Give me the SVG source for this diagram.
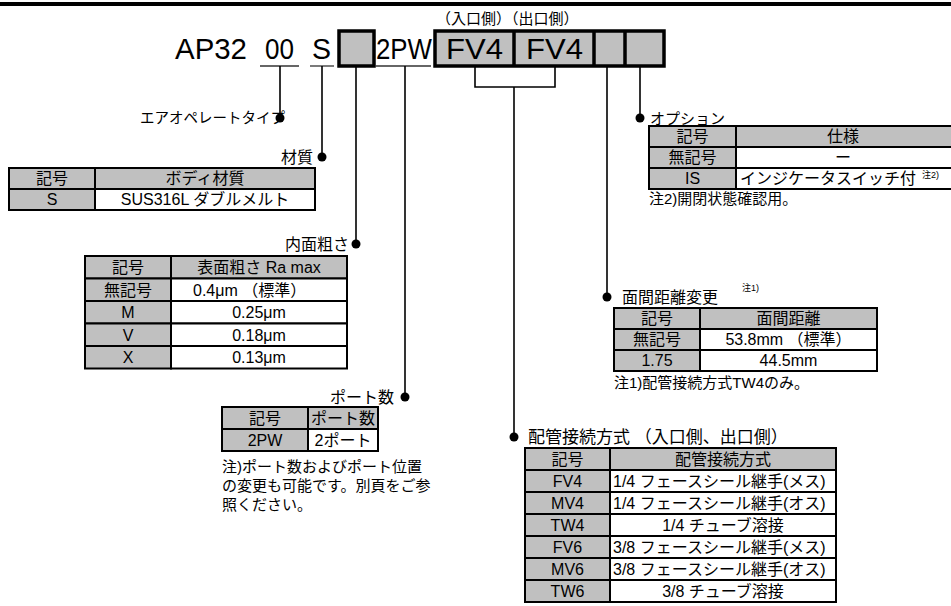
<svg xmlns="http://www.w3.org/2000/svg" width="951" height="606" viewBox="0 0 951 606">
<style>
.t{font-family:"Liberation Sans","Noto Sans CJK JP",sans-serif;font-size:16px;fill:#000}
.l{font-size:15px}
.c{text-anchor:middle}
.e{text-anchor:end}
.big{font-family:"Liberation Sans",sans-serif;font-size:29px;fill:#000}
.sup{font-family:"Liberation Sans","Noto Sans CJK JP",sans-serif;font-size:9px;fill:#000}
.g{fill:#c0c0c0;stroke:#000;stroke-width:2}
.w{fill:#fff;stroke:#000;stroke-width:2}
.hb{fill:#c0c0c0;stroke:#000;stroke-width:3.5}
.ln{stroke:#000;stroke-width:1.6;fill:none}
.ul{stroke:#333;stroke-width:1.3}
.dot{fill:#000}
</style>
<rect x="0" y="2" width="951" height="4" fill="#000"/>

<g id="code">
<text class="t" x="436" y="24" style="font-size:15px">（入口側）（出口側）</text>
<text class="big" x="175" y="58.5" textLength="72" lengthAdjust="spacingAndGlyphs">AP32</text>
<text class="big" x="265" y="58.5" textLength="29" lengthAdjust="spacingAndGlyphs">00</text>
<line class="ul" x1="260" y1="66" x2="299" y2="66"/>
<text class="big" x="312" y="58.5" textLength="19" lengthAdjust="spacingAndGlyphs">S</text>
<line class="ul" x1="310" y1="66" x2="334" y2="66"/>
<rect class="hb" x="339" y="31" width="35" height="35"/>
<text class="big" x="376" y="58.5" textLength="56" lengthAdjust="spacingAndGlyphs">2PW</text>
<line class="ul" x1="375" y1="66" x2="431" y2="66"/>
<rect class="hb" x="435" y="31" width="229" height="35"/>
<line stroke="#000" stroke-width="3.5" x1="514" y1="31" x2="514" y2="66"/>
<line stroke="#000" stroke-width="3.5" x1="594" y1="31" x2="594" y2="66"/>
<line stroke="#000" stroke-width="3.5" x1="625" y1="31" x2="625" y2="66"/>
<text class="big" x="446" y="58.5" textLength="57" lengthAdjust="spacingAndGlyphs">FV4</text>
<text class="big" x="526" y="58.5" textLength="57" lengthAdjust="spacingAndGlyphs">FV4</text>
</g>

<g id="connectors">
<line class="ln" x1="280" y1="66" x2="280" y2="118"/>
<line class="ln" x1="322" y1="66" x2="322" y2="157"/>
<line class="ln" x1="356" y1="66" x2="356" y2="244"/>
<line class="ln" x1="405" y1="66" x2="405" y2="397"/>
<polyline class="ln" points="475,66 475,87 555,87 555,66"/>
<line class="ln" x1="514" y1="87" x2="514" y2="437"/>
<line class="ln" x1="607" y1="66" x2="607" y2="297"/>
<line class="ln" x1="640" y1="66" x2="640" y2="118"/>
<circle class="dot" cx="280" cy="118" r="4.5"/>
<circle class="dot" cx="322" cy="157" r="4.5"/>
<circle class="dot" cx="356" cy="244" r="4.5"/>
<circle class="dot" cx="405" cy="397" r="4.5"/>
<circle class="dot" cx="514" cy="437" r="4.5"/>
<circle class="dot" cx="607" cy="297" r="4.5"/>
<circle class="dot" cx="640" cy="118" r="4.5"/>
</g>

<g id="air-type">
<text class="t e" x="285" y="123" style="font-size:14.5px">エアオペレートタイプ</text>
</g>

<g id="material">
<text class="t e" x="313" y="163">材質</text>
<rect class="g" x="9" y="168" width="86" height="21"/>
<rect class="g" x="95" y="168" width="220" height="21"/>
<rect class="g" x="9" y="189" width="86" height="21"/>
<rect class="w" x="95" y="189" width="220" height="21"/>
<text class="t c" x="52" y="184">記号</text>
<text class="t c" x="205" y="184">ボディ材質</text>
<text class="t c" x="52" y="205">S</text>
<text class="t c" x="205" y="205">SUS316L  ダブルメルト</text>
</g>

<g id="roughness">
<text class="t e" x="349" y="250">内面粗さ</text>
<rect class="g" x="85" y="256" width="86" height="22.5"/>
<rect class="g" x="171" y="256" width="176" height="22.5"/>
<rect class="g" x="85" y="278.5" width="86" height="22.5"/>
<rect class="w" x="171" y="278.5" width="176" height="22.5"/>
<rect class="g" x="85" y="301" width="86" height="22.5"/>
<rect class="w" x="171" y="301" width="176" height="22.5"/>
<rect class="g" x="85" y="323.5" width="86" height="22.5"/>
<rect class="w" x="171" y="323.5" width="176" height="22.5"/>
<rect class="g" x="85" y="346" width="86" height="22.5"/>
<rect class="w" x="171" y="346" width="176" height="22.5"/>
<text class="t c" x="128" y="273">記号</text>
<text class="t c" x="259" y="273">表面粗さ Ra max</text>
<text class="t c" x="128" y="295.5">無記号</text>
<text class="t" x="193" y="295.5">0.4μm （標準）</text>
<text class="t c" x="128" y="318">M</text>
<text class="t c" x="259" y="318">0.25μm</text>
<text class="t c" x="128" y="340.5">V</text>
<text class="t c" x="259" y="340.5">0.18μm</text>
<text class="t c" x="128" y="363">X</text>
<text class="t c" x="259" y="363">0.13μm</text>
</g>

<g id="ports">
<text class="t e" x="394" y="403">ポート数</text>
<rect class="g" x="222" y="407" width="86" height="22"/>
<rect class="g" x="308" y="407" width="70" height="22"/>
<rect class="g" x="222" y="429" width="86" height="22"/>
<rect class="w" x="308" y="429" width="70" height="22"/>
<text class="t c" x="265" y="424">記号</text>
<text class="t c" x="343" y="424">ポート数</text>
<text class="t c" x="265" y="446">2PW</text>
<text class="t c" x="343" y="446">2ポート</text>
<text class="t l" x="222" y="472">注)ポート数およびポート位置</text>
<text class="t l" x="222" y="491">の変更も可能です。別頁をご参</text>
<text class="t l" x="222" y="510">照ください。</text>
</g>

<g id="piping">
<text class="t" x="528" y="443" style="font-size:17px">配管接続方式 （入口側、出口側）</text>
<rect class="g" x="525" y="448" width="85" height="22"/>
<rect class="g" x="610" y="448" width="226" height="22"/>
<rect class="g" x="525" y="470" width="85" height="22"/>
<rect class="w" x="610" y="470" width="226" height="22"/>
<rect class="g" x="525" y="492" width="85" height="22"/>
<rect class="w" x="610" y="492" width="226" height="22"/>
<rect class="g" x="525" y="514" width="85" height="22"/>
<rect class="w" x="610" y="514" width="226" height="22"/>
<rect class="g" x="525" y="536" width="85" height="22"/>
<rect class="w" x="610" y="536" width="226" height="22"/>
<rect class="g" x="525" y="558" width="85" height="22"/>
<rect class="w" x="610" y="558" width="226" height="22"/>
<rect class="g" x="525" y="580" width="85" height="22"/>
<rect class="w" x="610" y="580" width="226" height="22"/>
<text class="t c" x="567.5" y="465">記号</text>
<text class="t c" x="723" y="465">配管接続方式</text>
<text class="t c" x="567.5" y="487">FV4</text>
<text class="t" x="613" y="487">1/4  フェースシール継手(メス)</text>
<text class="t c" x="567.5" y="509">MV4</text>
<text class="t" x="613" y="509">1/4  フェースシール継手(オス)</text>
<text class="t c" x="567.5" y="531">TW4</text>
<text class="t c" x="723" y="531">1/4  チューブ溶接</text>
<text class="t c" x="567.5" y="553">FV6</text>
<text class="t" x="613" y="553">3/8  フェースシール継手(メス)</text>
<text class="t c" x="567.5" y="575">MV6</text>
<text class="t" x="613" y="575">3/8  フェースシール継手(オス)</text>
<text class="t c" x="567.5" y="597">TW6</text>
<text class="t c" x="723" y="597">3/8  チューブ溶接</text>
</g>

<g id="face-distance">
<text class="t" x="622" y="303">面間距離変更</text>
<text class="sup" x="742" y="291">注1)</text>
<rect class="g" x="614" y="308" width="86" height="21"/>
<rect class="g" x="700" y="308" width="177" height="21"/>
<rect class="g" x="614" y="329" width="86" height="21"/>
<rect class="w" x="700" y="329" width="177" height="21"/>
<rect class="g" x="614" y="350" width="86" height="21"/>
<rect class="w" x="700" y="350" width="177" height="21"/>
<text class="t c" x="657" y="324">記号</text>
<text class="t c" x="788.5" y="324">面間距離</text>
<text class="t c" x="657" y="345">無記号</text>
<text class="t c" x="788.5" y="345">53.8mm （標準）</text>
<text class="t c" x="657" y="366">1.75</text>
<text class="t c" x="788.5" y="366">44.5mm</text>
<text class="t l" x="614" y="388">注1)配管接続方式TW4のみ。</text>
</g>

<g id="option">
<text class="t l" x="650" y="124">オプション</text>
<rect class="g" x="649" y="126" width="87" height="21"/>
<rect class="g" x="736" y="126" width="220" height="21"/>
<rect class="g" x="649" y="147" width="87" height="21"/>
<rect class="w" x="736" y="147" width="220" height="21"/>
<rect class="g" x="649" y="168" width="87" height="21"/>
<rect class="w" x="736" y="168" width="220" height="21"/>
<text class="t c" x="692.5" y="142">記号</text>
<text class="t c" x="843" y="142">仕様</text>
<text class="t c" x="692.5" y="163">無記号</text>
<text class="t c" x="843" y="163">ー</text>
<text class="t c" x="692.5" y="184">IS</text>
<text class="t" x="740" y="184">インジケータスイッチ付</text>
<text class="sup" x="922" y="178">注2)</text>
<text class="t l" x="649" y="204">注2)開閉状態確認用。</text>
</g>
</svg>
